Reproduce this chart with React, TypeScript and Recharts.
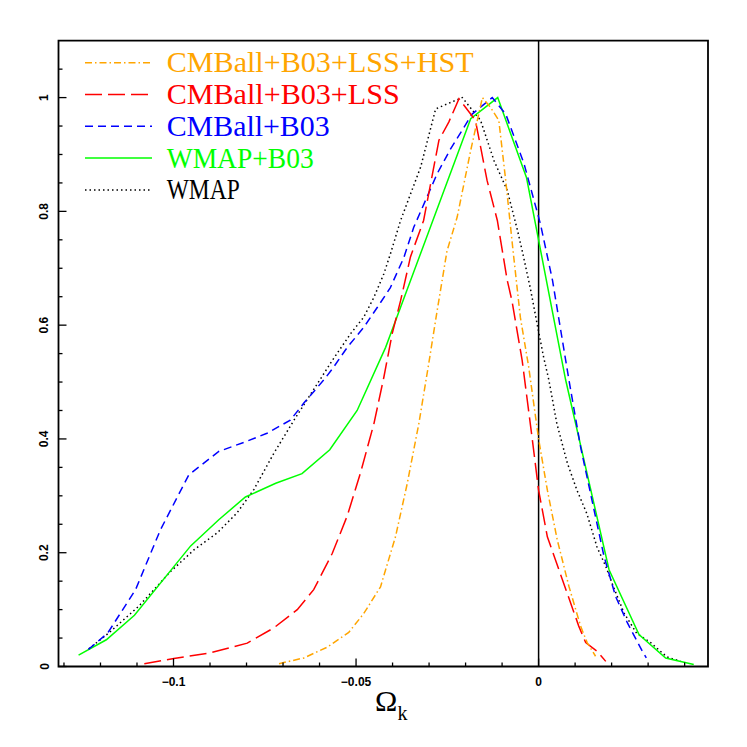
import React from "react";
import {
  LineChart,
  Line,
  XAxis,
  YAxis,
  ReferenceLine,
  ReferenceArea,
  Legend,
} from "recharts";

// Normalised likelihood curves for Omega_k, points as [x, L]
const hstPoints = [
  [-0.0711, 0.005], [-0.0643, 0.015], [-0.0579, 0.034], [-0.052, 0.06], [-0.0479, 0.093],
  [-0.0433, 0.14], [-0.0392, 0.228], [-0.036, 0.321], [-0.0328, 0.427], [-0.0301, 0.532],
  [-0.0278, 0.625], [-0.0251, 0.73], [-0.0223, 0.79], [-0.0186, 0.907], [-0.0164, 0.971],
  [-0.0154, 1.0], [-0.0132, 0.983], [-0.0109, 0.96], [-0.009, 0.854], [-0.007, 0.731],
  [-0.005, 0.614], [-0.0027, 0.526], [0.0, 0.4], [0.0024, 0.31], [0.0051, 0.223],
  [0.0083, 0.141], [0.0115, 0.071], [0.0133, 0.042], [0.0156, 0.018],
];

const lssPoints = [
  [-0.108, 0.005], [-0.0999, 0.014], [-0.0899, 0.024], [-0.0798, 0.041], [-0.0725, 0.068],
  [-0.0661, 0.1], [-0.0616, 0.135], [-0.0565, 0.199], [-0.0524, 0.265], [-0.0488, 0.34],
  [-0.0451, 0.427], [-0.0424, 0.508], [-0.0401, 0.585], [-0.0378, 0.643], [-0.0351, 0.72],
  [-0.0315, 0.784], [-0.0273, 0.925], [-0.0246, 0.957], [-0.0218, 0.998], [-0.0173, 0.96],
  [-0.0141, 0.854], [-0.0113, 0.784], [-0.0086, 0.679], [-0.0073, 0.643], [-0.0045, 0.538],
  [-0.0018, 0.403], [0.0, 0.31], [0.0024, 0.228], [0.0065, 0.153], [0.011, 0.071],
  [0.0129, 0.042], [0.016, 0.027], [0.0184, 0.009],
];

const cmbPoints = [
  [-0.1233, 0.03], [-0.118, 0.059], [-0.1104, 0.135], [-0.1036, 0.24], [-0.0958, 0.337],
  [-0.0876, 0.378], [-0.0803, 0.395], [-0.0744, 0.41], [-0.068, 0.433], [-0.0643, 0.463],
  [-0.0588, 0.504], [-0.0565, 0.523], [-0.0524, 0.561], [-0.0479, 0.596], [-0.0442, 0.631],
  [-0.0406, 0.666], [-0.0369, 0.719], [-0.0342, 0.772], [-0.0278, 0.866], [-0.0241, 0.91],
  [-0.0182, 0.971], [-0.0127, 1.0], [-0.009, 0.971], [-0.004, 0.884], [0.0005, 0.778],
  [0.0038, 0.679], [0.0083, 0.504], [0.0115, 0.386], [0.0179, 0.194], [0.0211, 0.123],
  [0.0243, 0.077], [0.0284, 0.027], [0.0295, 0.015],
];

const wmapB03Points = [
  [-0.126, 0.02], [-0.1184, 0.047], [-0.1107, 0.09], [-0.0953, 0.212], [-0.0876, 0.258],
  [-0.0803, 0.298], [-0.072, 0.322], [-0.0648, 0.339], [-0.0572, 0.381], [-0.0497, 0.45],
  [-0.0419, 0.561], [-0.0351, 0.678], [-0.0186, 0.963], [-0.0112, 1.0], [-0.0033, 0.859],
  [0.0074, 0.504], [0.0193, 0.17], [0.0275, 0.056], [0.0348, 0.015], [0.0425, 0.0035],
];

const wmapPoints = [
  [-0.1232, 0.031], [-0.1177, 0.059], [-0.1095, 0.106], [-0.1008, 0.167], [-0.0944, 0.205],
  [-0.088, 0.235], [-0.0826, 0.27], [-0.078, 0.311], [-0.0725, 0.375], [-0.067, 0.433],
  [-0.0629, 0.474], [-0.0565, 0.538], [-0.0515, 0.585], [-0.0479, 0.614], [-0.0451, 0.649],
  [-0.0424, 0.69], [-0.0406, 0.725], [-0.0378, 0.784], [-0.0323, 0.878], [-0.0282, 0.98],
  [-0.025, 0.989], [-0.0209, 1.0], [-0.0159, 0.96], [-0.0122, 0.889], [-0.0086, 0.837],
  [-0.0058, 0.767], [-0.0045, 0.731], [-0.0023, 0.666], [-0.0004, 0.602], [0.0014, 0.543],
  [0.0028, 0.504], [0.005, 0.427], [0.0079, 0.357], [0.0105, 0.31], [0.0132, 0.269],
  [0.016, 0.21], [0.0184, 0.176], [0.0205, 0.14], [0.0234, 0.094], [0.0269, 0.058],
  [0.0307, 0.042], [0.0351, 0.017], [0.0389, 0.009],
];

const xTicks = [
  -0.13, -0.12, -0.11, -0.1, -0.09, -0.08, -0.07, -0.06, -0.05, -0.04, -0.03, -0.02, -0.01,
  0, 0.01, 0.02, 0.03, 0.04,
];
const xLabels = [-0.1, -0.05, 0];
const yTicks = [
  0, 0.05, 0.1, 0.15, 0.2, 0.25, 0.3, 0.35, 0.4, 0.45, 0.5, 0.55, 0.6, 0.65, 0.7, 0.75,
  0.8, 0.85, 0.9, 0.95, 1, 1.05,
];
const yLabels = [0, 0.2, 0.4, 0.6, 0.8, 1];

const X_DOMAIN: [number, number] = [-0.1315, 0.0464];
const Y_DOMAIN: [number, number] = [0, 1.1];

const toRows = (pts: number[][]) => pts.map(([x, y]) => ({ x, y }));

const series = [
  { name: "CMBall+B03+LSS+HST", color: "#ffa500", dash: "7 3 1.5 3", points: hstPoints, textWidth: 307 },
  { name: "CMBall+B03+LSS", color: "#ff0000", dash: "17 6", points: lssPoints, textWidth: 233 },
  { name: "CMBall+B03", color: "#0000ff", dash: "8 5", points: cmbPoints, textWidth: 163 },
  { name: "WMAP+B03", color: "#00ff00", dash: undefined, points: wmapB03Points, textWidth: 147 },
  { name: "WMAP", color: "#000000", dash: "1.5 3", points: wmapPoints, textWidth: 73 },
];

const near = (list: number[], v: number) => list.some((l) => Math.abs(l - v) < 1e-9);
const fmt = (v: number) => (v < 0 ? "\u2212" + String(-v) : String(v));

const tickFont = "'Liberation Sans', Arial, sans-serif";
const serifFont = "'Liberation Serif', 'Times New Roman', serif";

// ticks point into the plot, labels only on the majors
const XTick = (props: any) => {
  const { x, y, payload } = props;
  const major = near(xLabels, payload.value);
  return (
    <g>
      <line x1={x} x2={x} y1={y} y2={y - (major ? 8 : 4)} stroke="#000" strokeWidth={1.3} />
      {major && (
        <text x={x} y={y + 19} textAnchor="middle" fontSize={12} fontWeight="bold" fontFamily={tickFont} fill="#000">
          {fmt(payload.value)}
        </text>
      )}
    </g>
  );
};

const YTick = (props: any) => {
  const { x, y, payload } = props;
  const major = near(yLabels, payload.value);
  return (
    <g>
      <line x1={x} x2={x + (major ? 8 : 4)} y1={y} y2={y} stroke="#000" strokeWidth={1.3} />
      {major && (
        <text
          x={x - 10}
          y={y}
          transform={`rotate(-90 ${x - 10} ${y})`}
          textAnchor="middle"
          fontSize={12}
          fontWeight="bold"
          fontFamily={tickFont}
          fill="#000"
        >
          {String(payload.value)}
        </text>
      )}
    </g>
  );
};

const OmegaLabel = (props: any) => {
  const { viewBox } = props;
  const cx = viewBox.x + viewBox.width / 2;
  return (
    <text x={cx + 8} y={viewBox.y + 44} textAnchor="middle" fontFamily={serifFont} fill="#000">
      <tspan fontSize={30}>Ω</tspan>
      <tspan fontSize={20} dy={9}>k</tspan>
    </text>
  );
};

const LegendBox = () => (
  <svg width={480} height={200} style={{ display: "block" }}>
    {series.map((s, i) => {
      const cy = 54.7 + i * 31.8;
      return (
        <g key={s.name}>
          <line x1={77} x2={144} y1={cy} y2={cy} stroke={s.color} strokeWidth={1.5} strokeDasharray={s.dash} />
          <text
            x={158.7}
            y={cy + 9.5}
            fontSize={29}
            fontFamily={serifFont}
            fill={s.color}
            textLength={s.textWidth}
            lengthAdjust="spacingAndGlyphs"
          >
            {s.name}
          </text>
        </g>
      );
    })}
  </svg>
);

export default function App() {
  return (
    <LineChart width={730} height={730} margin={{ top: 32.7, right: 30, bottom: 41.5, left: 10.5 }}>
      <XAxis
        dataKey="x"
        type="number"
        domain={X_DOMAIN}
        allowDataOverflow
        ticks={xTicks}
        interval={0}
        height={30}
        axisLine={false}
        tickLine={false}
        tickSize={0}
        tickMargin={0}
        tick={<XTick />}
        label={<OmegaLabel />}
      />
      <YAxis
        type="number"
        domain={Y_DOMAIN}
        allowDataOverflow
        ticks={yTicks}
        interval={0}
        width={40}
        axisLine={false}
        tickLine={false}
        tickSize={0}
        tickMargin={0}
        tick={<YTick />}
      />
      <ReferenceArea
        x1={X_DOMAIN[0]}
        x2={X_DOMAIN[1]}
        y1={Y_DOMAIN[0]}
        y2={Y_DOMAIN[1]}
        fill="none"
        stroke="#000"
        strokeWidth={1.8}
      />
      <ReferenceLine x={0} stroke="#000" strokeWidth={1.5} />
      {series
        .slice()
        .reverse()
        .map((s) => (
          <Line
            key={s.name}
            name={s.name}
            data={toRows(s.points)}
            dataKey="y"
            type="linear"
            stroke={s.color}
            strokeWidth={1.5}
            strokeDasharray={s.dash}
            dot={false}
            activeDot={false}
            isAnimationActive={false}
          />
        ))}
      <Legend
        layout="horizontal"
        verticalAlign="middle"
        align="center"
        wrapperStyle={{ left: 0, top: 0, width: 480, height: 200 }}
        content={() => <LegendBox />}
      />
    </LineChart>
  );
}
